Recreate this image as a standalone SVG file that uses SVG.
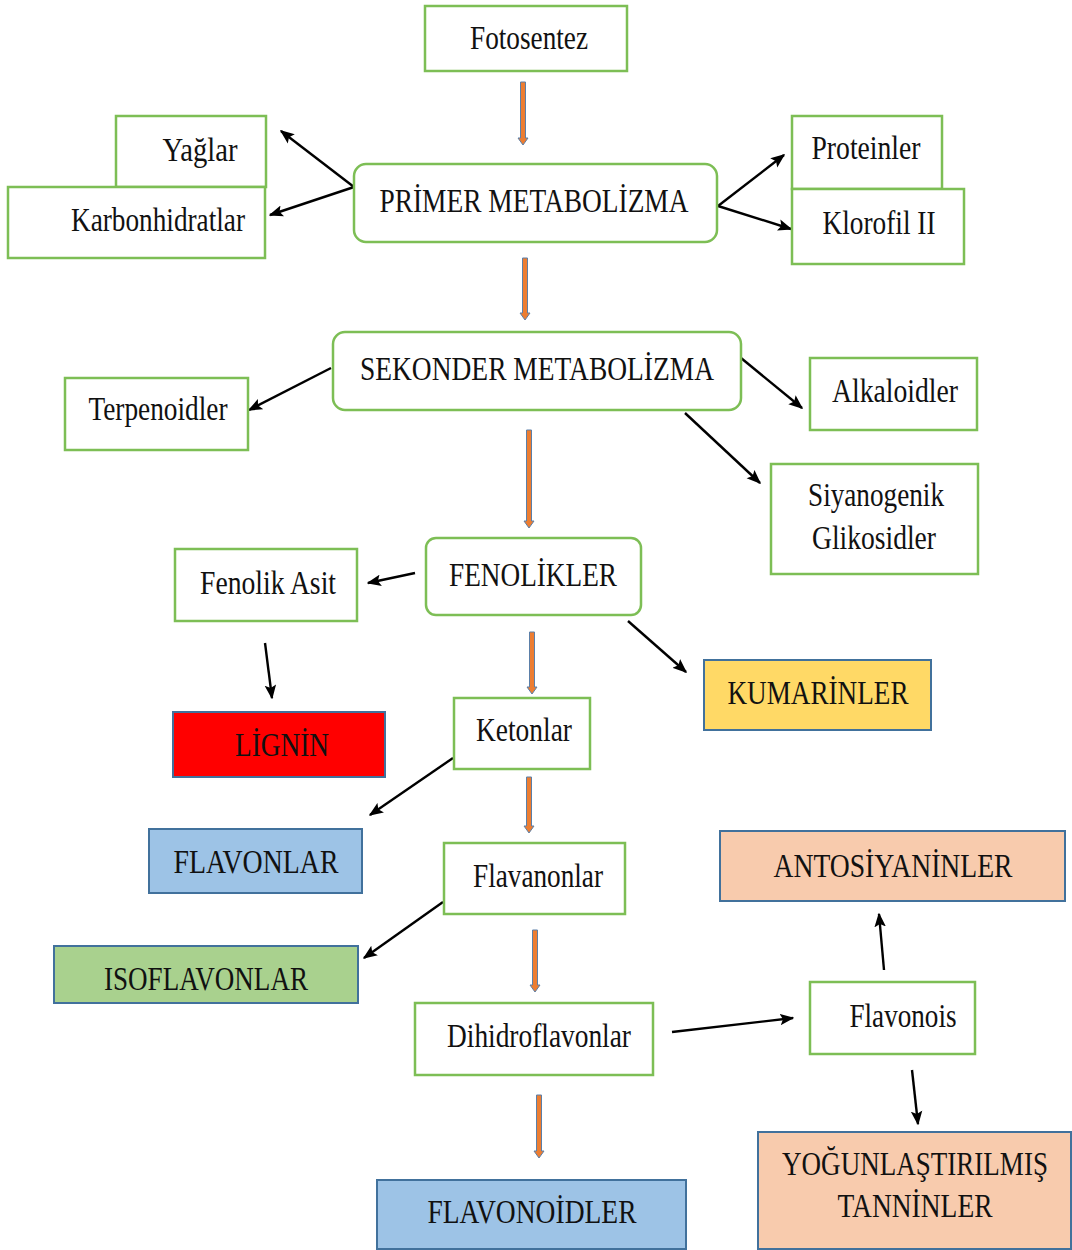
<svg xmlns="http://www.w3.org/2000/svg" width="1072" height="1250" viewBox="0 0 1072 1250">
<defs>
<marker id="ah" viewBox="0 0 10 8" refX="9" refY="4" markerWidth="6" markerHeight="5" orient="auto">
<path d="M0,0 L10,4 L0,8 L2,4 Z" fill="#000"/>
</marker>
<style>
.g{fill:#fff;stroke:#7DBE55;stroke-width:2.5}
.c{stroke:#41719C;stroke-width:2}
.t{font-family:"Liberation Serif","Times New Roman",serif;font-size:33px;fill:#111;text-anchor:middle}
.k{stroke:#000;stroke-width:2.4;fill:none;marker-end:url(#ah)}
.o{fill:#ED7D31;stroke:#5B7FA8;stroke-width:1}
</style>
</defs>
<rect width="1072" height="1250" fill="#fff"/>
<g id="connectors">
<path class="o" d="M520.5,82 H525.5 V138 H528 L523,145 L518,138 H520.5 Z"/>
<path class="o" d="M522.5,258 H527.5 V313 H530 L525,320 L520,313 H522.5 Z"/>
<path class="o" d="M526.5,430 H531.5 V521 H534 L529,528 L524,521 H526.5 Z"/>
<path class="o" d="M529.5,632 H534.5 V687 H537 L532,694 L527,687 H529.5 Z"/>
<path class="o" d="M526.5,777 H531.5 V826 H534 L529,833 L524,826 H526.5 Z"/>
<path class="o" d="M532.5,930 H537.5 V985 H540 L535,992 L530,985 H532.5 Z"/>
<path class="o" d="M536.5,1095 H541.5 V1151 H544 L539,1158 L534,1151 H536.5 Z"/>
<line class="k" x1="354" y1="187" x2="281" y2="131"/>
<line class="k" x1="354" y1="187" x2="270" y2="215"/>
<line class="k" x1="718" y1="206" x2="784" y2="155"/>
<line class="k" x1="718" y1="206" x2="791" y2="229"/>
<line class="k" x1="331" y1="368" x2="249" y2="410"/>
<line class="k" x1="741" y1="358" x2="802" y2="408"/>
<line class="k" x1="685" y1="413" x2="760" y2="483"/>
<line class="k" x1="415" y1="573" x2="368" y2="583"/>
<line class="k" x1="265" y1="643" x2="272" y2="698"/>
<line class="k" x1="628" y1="621" x2="686" y2="672"/>
<line class="k" x1="453" y1="758" x2="370" y2="815"/>
<line class="k" x1="443" y1="902" x2="364" y2="958"/>
<line class="k" x1="672" y1="1032" x2="793" y2="1018"/>
<line class="k" x1="884" y1="970" x2="879" y2="914"/>
<line class="k" x1="912" y1="1070" x2="918" y2="1124"/>
</g>
<g id="fotosentez"><rect class="g" x="425" y="6" width="202" height="65"/><text class="t" x="529" y="49" textLength="118" lengthAdjust="spacingAndGlyphs">Fotosentez</text></g>
<g id="yaglar"><rect class="g" x="116" y="116" width="150" height="71"/><text class="t" x="200" y="161" textLength="75" lengthAdjust="spacingAndGlyphs">Yağlar</text></g>
<g id="karbonhidratlar"><rect class="g" x="8" y="187" width="257" height="71"/><text class="t" x="158" y="231" textLength="174" lengthAdjust="spacingAndGlyphs">Karbonhidratlar</text></g>
<g id="primer"><rect class="g" x="354" y="164" width="363" height="78" rx="12"/><text class="t" x="534" y="212" textLength="309" lengthAdjust="spacingAndGlyphs">PRİMER METABOLİZMA</text></g>
<g id="proteinler"><rect class="g" x="792" y="116" width="150" height="73"/><text class="t" x="866" y="159" textLength="109" lengthAdjust="spacingAndGlyphs">Proteinler</text></g>
<g id="klorofil"><rect class="g" x="792" y="189" width="172" height="75"/><text class="t" x="879" y="234" textLength="113" lengthAdjust="spacingAndGlyphs">Klorofil II</text></g>
<g id="sekonder"><rect class="g" x="333" y="332" width="408" height="78" rx="12"/><text class="t" x="537" y="380" textLength="354" lengthAdjust="spacingAndGlyphs">SEKONDER METABOLİZMA</text></g>
<g id="terpenoidler"><rect class="g" x="65" y="378" width="183" height="72"/><text class="t" x="158" y="420" textLength="139" lengthAdjust="spacingAndGlyphs">Terpenoidler</text></g>
<g id="alkaloidler"><rect class="g" x="810" y="358" width="167" height="72"/><text class="t" x="895" y="402" textLength="126" lengthAdjust="spacingAndGlyphs">Alkaloidler</text></g>
<g id="siyanogenik"><rect class="g" x="771" y="464" width="207" height="110"/><text class="t" x="876" y="506" textLength="136" lengthAdjust="spacingAndGlyphs">Siyanogenik</text><text class="t" x="874" y="549" textLength="124" lengthAdjust="spacingAndGlyphs">Glikosidler</text></g>
<g id="fenolikler"><rect class="g" x="426" y="538" width="215" height="77" rx="10"/><text class="t" x="533" y="586" textLength="168" lengthAdjust="spacingAndGlyphs">FENOLİKLER</text></g>
<g id="fenolikasit"><rect class="g" x="175" y="549" width="182" height="72"/><text class="t" x="268" y="594" textLength="136" lengthAdjust="spacingAndGlyphs">Fenolik Asit</text></g>
<g id="lignin"><rect class="c" fill="#FF0000" x="173" y="712" width="212" height="65"/><text class="t" x="282" y="756" textLength="94" lengthAdjust="spacingAndGlyphs">LİGNİN</text></g>
<g id="kumarinler"><rect class="c" fill="#FFD966" x="704" y="660" width="227" height="70"/><text class="t" x="818" y="704" textLength="181" lengthAdjust="spacingAndGlyphs">KUMARİNLER</text></g>
<g id="ketonlar"><rect class="g" x="454" y="698" width="136" height="71"/><text class="t" x="524" y="741" textLength="96" lengthAdjust="spacingAndGlyphs">Ketonlar</text></g>
<g id="flavonlar"><rect class="c" fill="#9DC3E6" x="149" y="829" width="213" height="64"/><text class="t" x="256" y="873" textLength="165" lengthAdjust="spacingAndGlyphs">FLAVONLAR</text></g>
<g id="flavanonlar"><rect class="g" x="444" y="843" width="181" height="71"/><text class="t" x="538" y="887" textLength="130" lengthAdjust="spacingAndGlyphs">Flavanonlar</text></g>
<g id="antosiyaninler"><rect class="c" fill="#F8CBAD" x="720" y="831" width="345" height="70"/><text class="t" x="893" y="877" textLength="239" lengthAdjust="spacingAndGlyphs">ANTOSİYANİNLER</text></g>
<g id="isoflavonlar"><rect class="c" fill="#A9D18E" x="54" y="946" width="304" height="57"/><text class="t" x="206" y="990" textLength="204" lengthAdjust="spacingAndGlyphs">ISOFLAVONLAR</text></g>
<g id="dihidroflavonlar"><rect class="g" x="415" y="1003" width="238" height="72"/><text class="t" x="539" y="1047" textLength="184" lengthAdjust="spacingAndGlyphs">Dihidroflavonlar</text></g>
<g id="flavonois"><rect class="g" x="810" y="982" width="165" height="72"/><text class="t" x="903" y="1027" textLength="107" lengthAdjust="spacingAndGlyphs">Flavonois</text></g>
<g id="yogunlastirilmis"><rect class="c" fill="#F8CBAD" x="758" y="1132" width="313" height="117"/><text class="t" transform="translate(915,1175) scale(0.82,1)">YOĞUNLAŞTIRILMIŞ</text><text class="t" x="915" y="1217" textLength="155" lengthAdjust="spacingAndGlyphs">TANNİNLER</text></g>
<g id="flavonoidler"><rect class="c" fill="#9DC3E6" x="377" y="1180" width="309" height="69"/><text class="t" x="532" y="1223" textLength="209" lengthAdjust="spacingAndGlyphs">FLAVONOİDLER</text></g>
</svg>
